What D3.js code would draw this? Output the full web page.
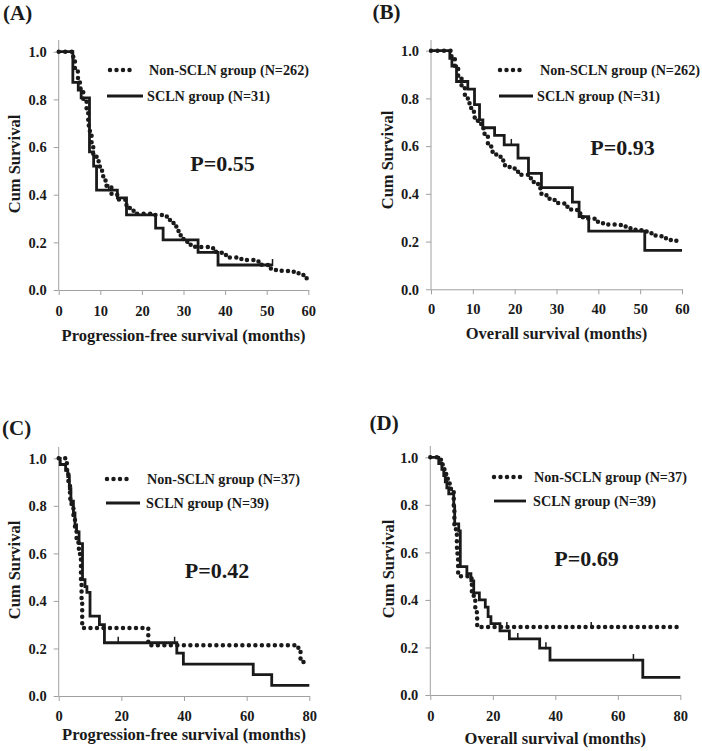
<!DOCTYPE html>
<html><head><meta charset="utf-8">
<script src="https://cdn.jsdelivr.net/npm/d3@7"></script>
<style>
body{margin:0;background:#fff;}
text{font-family:"Liberation Serif","Times New Roman",serif;font-weight:bold;fill:#1a1a1a;}
</style></head><body>
<svg id="c" width="702" height="751"></svg>
<script>
// ---------- DATA ----------
const yTicks = [0, 0.2, 0.4, 0.6, 0.8, 1.0];
const xTicks60 = [0, 10, 20, 30, 40, 50, 60];
const xTicks80 = [0, 20, 40, 60, 80];

// Panel A: progression-free survival (N=262 vs N=31)  [month, cumulative survival]
const aNonSCLN = [[0,1],[3.1,1],[3.5,0.97],[3.9,0.93],[4.6,0.89],[5.1,0.846],[5.9,0.80],[6.7,0.75],[7.1,0.69],[7.5,0.65],[7.9,0.61],[8.3,0.57],[9.1,0.54],[9.9,0.50],[10.7,0.46],[11.5,0.43],[12.7,0.40],[14.3,0.38],[16.0,0.357],[17.1,0.336],[18.0,0.32],[23.2,0.315],[24.8,0.308],[26.4,0.294],[27.6,0.266],[28.8,0.23],[30.0,0.203],[31.2,0.19],[32.8,0.18],[36.0,0.175],[37.6,0.16],[39.2,0.147],[40.8,0.136],[42.8,0.13],[44.8,0.126],[46.8,0.12],[48.8,0.105],[50.4,0.09],[51.2,0.084],[53.6,0.08],[55.2,0.077],[56.8,0.07],[58.4,0.063],[59.6,0.049],[60,0.049]];
const aSCLN = [[0,1],[3.4,0.871],[4.7,0.839],[5.4,0.806],[7.4,0.58],[8.4,0.52],[9.1,0.419],[14.1,0.387],[16.3,0.315],[23.3,0.26],[25.1,0.21],[33.5,0.158],[38.3,0.105],[51.4,0.105]];
const aSCLNCensor = [[12.0,0.419],[51.4,0.105]];

// Panel B: overall survival (N=262 vs N=31)
const bNonSCLN = [[0,1],[4.0,1],[4.9,0.97],[5.7,0.926],[6.5,0.89],[7.3,0.85],[8.1,0.814],[8.8,0.78],[9.6,0.744],[10.4,0.72],[11.2,0.695],[12.0,0.675],[12.8,0.647],[13.6,0.605],[14.4,0.577],[15.6,0.556],[16.8,0.54],[17.6,0.52],[18.8,0.507],[20.0,0.493],[21.6,0.48],[23.2,0.465],[24.4,0.45],[25.6,0.423],[26.4,0.395],[27.6,0.38],[29.2,0.374],[30.4,0.36],[32.0,0.346],[33.5,0.332],[35.1,0.318],[36.3,0.30],[37.5,0.297],[39.1,0.283],[40.7,0.277],[42.3,0.272],[43.9,0.27],[45.5,0.263],[47.1,0.256],[48.7,0.25],[50.3,0.242],[51.9,0.235],[53.5,0.225],[55.1,0.214],[56.7,0.207],[58.6,0.203],[59.4,0.203]];
const bSCLN = [[0,1],[4.5,0.968],[5.0,0.935],[6.1,0.871],[8.8,0.839],[10.4,0.774],[11.6,0.71],[12.4,0.677],[15.2,0.645],[17.5,0.605],[20.8,0.55],[23.3,0.486],[26.4,0.426],[33.8,0.365],[35.4,0.305],[37.7,0.244],[51.1,0.163],[60,0.163]];
const bSCLNCensor = [[19.2,0.605]];

// Panel C: progression-free survival (N=37 vs N=39)
const cNonSCLN = [[0,1],[2.2,1],[2.6,0.94],[3.1,0.886],[3.6,0.83],[4.1,0.79],[4.7,0.746],[5.2,0.70],[5.7,0.655],[6.3,0.62],[6.8,0.578],[7.1,0.49],[7.3,0.41],[7.5,0.286],[28.6,0.214],[76.5,0.19],[77.2,0.143],[80,0.143]];
const cSCLN = [[0,1],[0.5,0.974],[2.2,0.949],[2.9,0.923],[3.4,0.872],[3.9,0.82],[4.7,0.77],[5.2,0.72],[5.7,0.69],[6.5,0.641],[7.6,0.49],[8.4,0.46],[9.0,0.436],[10.0,0.336],[13.0,0.30],[14.6,0.224],[37.7,0.18],[39.8,0.134],[62.1,0.09],[68.0,0.045],[80,0.045]];
const cSCLNCensor = [[19.0,0.224],[37.0,0.224]];

// Panel D: overall survival (N=37 vs N=39)
const dNonSCLN = [[0,1],[3.4,0.99],[3.9,0.97],[4.4,0.95],[5.0,0.93],[5.6,0.89],[6.6,0.86],[7.5,0.78],[7.7,0.70],[8.2,0.68],[8.5,0.62],[8.7,0.57],[8.9,0.50],[12.6,0.49],[13.3,0.43],[13.9,0.405],[14.4,0.363],[14.9,0.335],[15.0,0.286],[80,0.286]];
const dNonSCLNCensor = [[24.5,0.286],[51.5,0.286]];
const dSCLN = [[0,1],[2.7,0.974],[3.7,0.949],[4.3,0.923],[4.8,0.897],[5.3,0.872],[5.9,0.846],[7.5,0.795],[7.8,0.72],[9.1,0.69],[9.6,0.54],[11.7,0.51],[13.0,0.48],[13.9,0.43],[15.7,0.40],[17.6,0.37],[18.5,0.33],[19.4,0.30],[22.3,0.27],[25.3,0.236],[35.0,0.197],[38.3,0.147],[68.0,0.074],[80,0.074]];
const dSCLNCensor = [[28.0,0.236],[37.0,0.197],[65.0,0.147]];

const legendA = ["Non-SCLN group (N=262)", "SCLN group (N=31)"];
const legendC = ["Non-SCLN group (N=37)", "SCLN group (N=39)"];
const pValues = ["P=0.55", "P=0.93", "P=0.42", "P=0.69"];
const panelLetters = ["(A)", "(B)", "(C)", "(D)"];
const xTitles = ["Progression-free survival (months)", "Overall survival (months)", "Progression-free survival (months)", "Overall survival (months)"];
const yTitle = "Cum Survival";

// ---------- LAYOUT ----------
const svg = d3.select("#c");
const INK = "#1a1a1a", AXIS = "#a0a0a0";

const panels = [
  {letter:panelLetters[0], lx:3, ly:19.5, xMax:60, xt:xTicks60, xr:[58.7,308.3], yr:[290,51.7], top:40,
   non:aNonSCLN, scln:aSCLN, cs:aSCLNCensor, cn:[], leg:legendA,
   legX:[108,138,149], legX2:[107,143,147], legY:[70,96], p:pValues[0], px:222.5, py:163,
   xt2:xTitles[0], xtY:340.5, tickY:315.5, ytX:15, ytY:164},
  {letter:panelLetters[1], lx:372.5, ly:19, xMax:60, xt:xTicks60, xr:[431,682], yr:[289.3,50.7], top:40,
   non:bNonSCLN, scln:bSCLN, cs:bSCLNCensor, cn:[], leg:legendA,
   legX:[498,528,540], legX2:[499,533,537], legY:[70,96], p:pValues[1], px:622.5, py:147,
   xt2:xTitles[1], xtY:338.5, tickY:314, ytX:388, ytY:160},
  {letter:panelLetters[2], lx:2, ly:434.5, xMax:80, xt:xTicks80, xr:[58.7,309.3], yr:[696,458.3], top:447,
   non:cNonSCLN, scln:cSCLN, cs:cSCLNCensor, cn:[], leg:legendC,
   legX:[105,135,147], legX2:[106,140,146], legY:[479,503], p:pValues[2], px:217, py:570,
   xt2:xTitles[2], xtY:739.5, tickY:721.3, ytX:15, ytY:570},
  {letter:panelLetters[3], lx:369.5, ly:429.5, xMax:80, xt:xTicks80, xr:[430.3,680.3], yr:[695,457.3], top:446,
   non:dNonSCLN, scln:dSCLN, cs:dSCLNCensor, cn:dNonSCLNCensor, leg:legendC,
   legX:[492,523,534], legX2:[494,526,533], legY:[477,501], p:pValues[3], px:586.5, py:558,
   xt2:xTitles[3], xtY:743.5, tickY:720.6, ytX:389, ytY:569}
];

function dotted(sel){
  return sel.attr("fill","none").attr("stroke",INK).attr("stroke-width",4.5)
    .attr("stroke-linecap","round").attr("stroke-dasharray","0 6.5");
}
function solid(sel){
  return sel.attr("fill","none").attr("stroke",INK).attr("stroke-width",2.8);
}

panels.forEach(P => {
  const x = d3.scaleLinear().domain([0,P.xMax]).range(P.xr);
  const y = d3.scaleLinear().domain([0,1]).range(P.yr);
  const g = svg.append("g");

  g.append("text").attr("x",P.lx).attr("y",P.ly).attr("font-size",21).text(P.letter);

  const yAx = g.append("g").attr("transform",`translate(${P.xr[0]},0)`)
    .call(d3.axisLeft(y).tickValues(yTicks).tickFormat(d3.format(".1f")).tickSize(5).tickSizeOuter(0).tickPadding(7));
  yAx.select(".domain").remove();
  yAx.selectAll("line").attr("stroke",AXIS);
  yAx.selectAll("text").attr("font-size",14.5).attr("font-family","Liberation Serif, serif").attr("font-weight","bold").attr("fill",INK).attr("dy","0.33em");
  g.append("line").attr("x1",P.xr[0]).attr("x2",P.xr[0]).attr("y1",P.top).attr("y2",P.yr[0]).attr("stroke",AXIS);

  const xAx = g.append("g").attr("transform",`translate(0,${P.yr[0]})`)
    .call(d3.axisBottom(x).tickValues(P.xt).tickFormat(d3.format("d")).tickSize(5).tickSizeOuter(0));
  xAx.select(".domain").attr("stroke",AXIS);
  xAx.selectAll("line").attr("stroke",AXIS);
  xAx.selectAll("text").attr("font-size",14.5).attr("font-family","Liberation Serif, serif").attr("font-weight","bold").attr("fill",INK)
    .attr("y",P.tickY - P.yr[0]).attr("dy",0);

  g.append("text").attr("x",(P.xr[0]+P.xr[1])/2).attr("y",P.xtY).attr("text-anchor","middle").attr("font-size",16.5).text(P.xt2);
  g.append("text").attr("transform",`translate(${P.ytX},${P.ytY}) rotate(-90)`).attr("text-anchor","middle")
    .attr("dy","0.33em").attr("font-size",16.5).text(yTitle);

  const line = d3.line().x(d=>x(d[0])).y(d=>y(d[1])).curve(d3.curveStepAfter);
  g.append("path").datum(P.scln).attr("d",line).call(solid);
  g.append("path").datum(P.non).attr("d",line).call(dotted);
  P.cs.forEach(d => g.append("line").attr("x1",x(d[0])).attr("x2",x(d[0])).attr("y1",y(d[1])-6).attr("y2",y(d[1])+1)
    .attr("stroke",INK).attr("stroke-width",1.5));
  P.cn.forEach(d => g.append("line").attr("x1",x(d[0])).attr("x2",x(d[0])).attr("y1",y(d[1])-5).attr("y2",y(d[1])+1)
    .attr("stroke",INK).attr("stroke-width",1.5));

  g.append("line").attr("x1",P.legX[0]+2).attr("x2",P.legX[1]-2).attr("y1",P.legY[0]).attr("y2",P.legY[0]).call(dotted);
  g.append("text").attr("x",P.legX[2]).attr("y",P.legY[0]).attr("dy","0.33em").attr("font-size",14.2).text(P.leg[0]);
  g.append("line").attr("x1",P.legX2[0]).attr("x2",P.legX2[1]).attr("y1",P.legY[1]).attr("y2",P.legY[1]).call(solid);
  g.append("text").attr("x",P.legX2[2]).attr("y",P.legY[1]).attr("dy","0.33em").attr("font-size",14.2).text(P.leg[1]);

  g.append("text").attr("x",P.px).attr("y",P.py).attr("dy","0.35em").attr("text-anchor","middle").attr("font-size",22).text(P.p);
});
</script>
</body></html>
